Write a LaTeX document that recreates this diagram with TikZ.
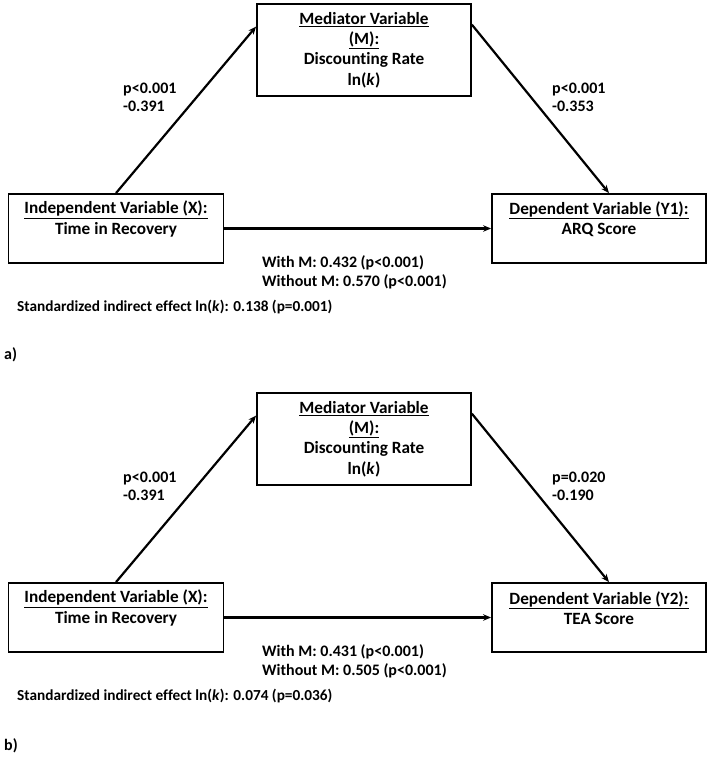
\documentclass[tikz,border=0pt]{standalone}
\usepackage{fontspec}
\setmainfont[Ligatures=NoCommon]{Carlito}
\usetikzlibrary{arrows.meta,calc}
\tikzset{
  varbox/.style={draw,line width=1.8pt,inner sep=0pt,align=center},
  boxtext/.style={font=\bfseries\fontsize{17.2}{20.5}\selectfont,align=center,inner sep=0pt},
  lab/.style={font=\bfseries\fontsize{16}{18}\selectfont,align=left,anchor=west,inner sep=0pt},
  conn/.style={line width=2.2pt,-{Stealth[length=8pt,width=6.5pt]}}
}
\newcommand\mediationpanel[9]{%
  % #1 prefix, #2 y offset, #3 Y label, #4 Y text, #5 right p, #6 right coef, #7 with, #8 without, #9 indirect
  \begin{scope}[shift={(0,#2)}]
    \node[varbox,minimum width=214pt,minimum height=92pt,font=\bfseries\fontsize{17.2}{20.3}\selectfont] (#1M) at (364,50)
      {\underline{Mediator Variable}\\\underline{(M):}\\Discounting Rate\\ln(\textit{k})};
    \node[varbox,minimum width=215pt,minimum height=69pt] (#1X) at (116,228.5) {};
    \node[boxtext] (#1Xt) at (116,219) {\underline{Independent Variable (X):}\\Time in Recovery};
    \node[varbox,minimum width=214pt,minimum height=69pt] (#1Y) at (599,228.5) {};
    \node[boxtext] (#1Yt) at (599,219) {\underline{Dependent Variable (#3):}\\#4};
    \draw[conn] (#1X.north) -- ($(#1M.north west)!0.25!(#1M.south west)$);
    \draw[conn] ($(#1M.north east)!0.23!(#1M.south east)$) -- ($(#1Y.north)+(10,0)$);
    \draw[conn] (#1X.east) -- (#1Y.west);
    \node[lab] (#1la) at (123,97) {p<0.001\\-0.391};
    \node[lab] (#1lb) at (552,97) {#5\\#6};
    \node[lab,font=\bfseries\fontsize{16}{19}\selectfont] (#1lc) at (262,272.5) {With M: #7\\Without M: #8};
    \node[lab,font=\bfseries\fontsize{15.3}{18}\selectfont] (#1ld) at (17,307) {Standardized indirect effect ln(\textit{k}): #9};
  \end{scope}
}
\begin{document}
\begin{tikzpicture}[x=1pt,y=-1pt]
  \useasboundingbox (0,0) rectangle (710,765);
  \fill[white] (0,0) rectangle (710,765);
  \mediationpanel{a}{0}{Y1}{ARQ Score}{p<0.001}{-0.353}{0.432 (p<0.001)}{0.570 (p<0.001)}{0.138 (p=0.001)}
  \node[lab] (pa) at (4,355) {a)};
  \mediationpanel{b}{389}{Y2}{TEA Score}{p=0.020}{-0.190}{0.431 (p<0.001)}{0.505 (p<0.001)}{0.074 (p=0.036)}
  \node[lab] (pb) at (4,746) {b)};
\end{tikzpicture}
\end{document}
